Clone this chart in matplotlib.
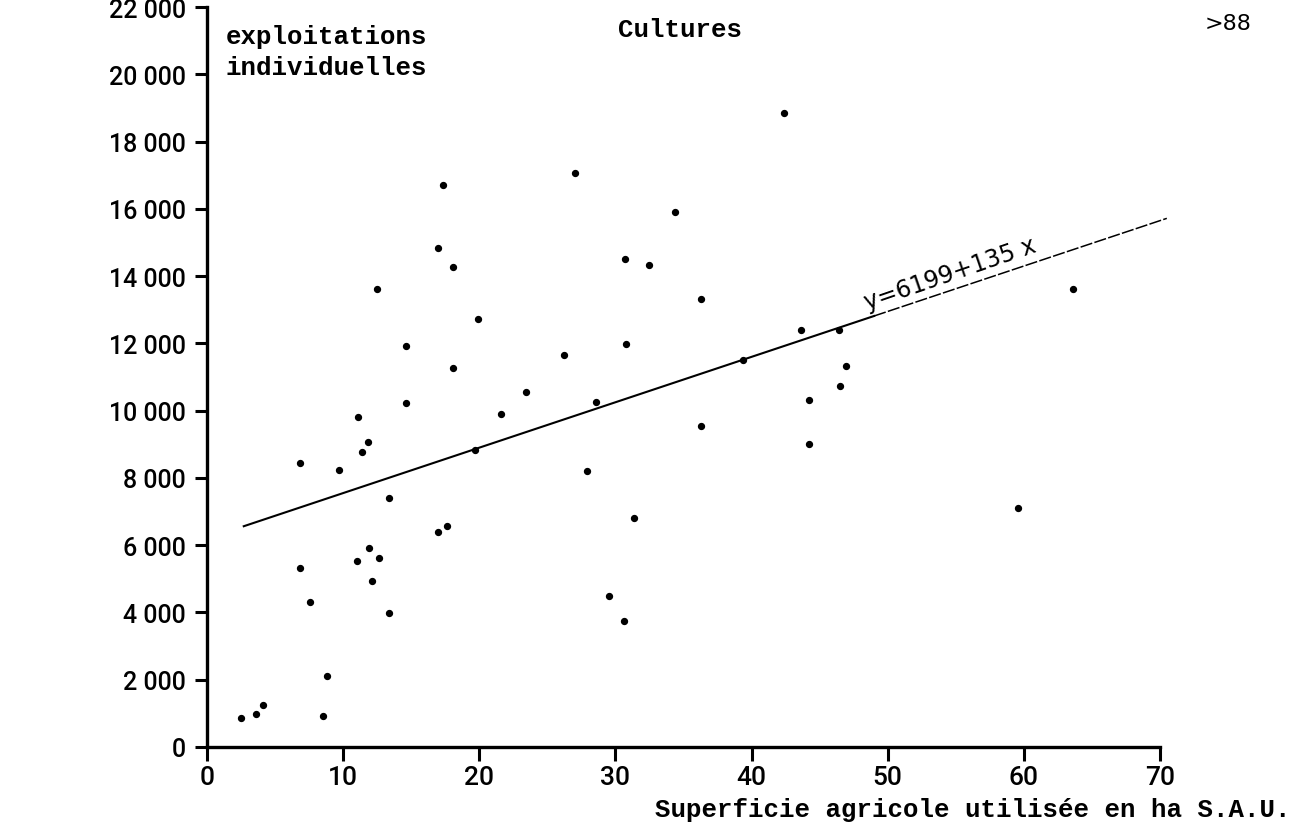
import matplotlib
matplotlib.use("Agg")
import matplotlib.pyplot as plt
from matplotlib.ticker import FuncFormatter

# surface agricole utilisee (ha)
sau = [2.5, 3.6, 4.1, 8.5, 8.8, 6.8, 7.6, 11.0, 11.9, 12.6, 12.1, 13.4, 17.0, 17.6,
       29.5, 30.6, 31.4, 18.1, 12.5, 19.9, 14.6, 18.1, 23.4, 14.6, 26.2, 30.8, 30.7,
       32.5, 21.6, 11.1, 11.8, 11.4, 6.8, 9.7, 19.7, 28.6, 27.9, 13.4, 17.3, 17.0,
       27.0, 34.4, 42.4, 36.3, 43.6, 46.4, 63.6, 46.9, 46.5, 44.2, 44.2, 36.3, 59.6, 39.4]
# cultures
cultures = [860, 990, 1245, 930, 2100, 5320, 4310, 5530, 5920, 5610, 4940, 3970, 6400, 6580,
            4480, 3740, 6800, 14285, 13620, 12715, 11930, 11255, 10560, 10215, 11665, 11990, 14510,
            14320, 9900, 9815, 9080, 8785, 8450, 8235, 8830, 10265, 8205, 7410, 16700, 14840,
            17060, 15900, 18850, 13320, 12410, 12410, 13620, 11315, 10725, 10330, 9010, 9550, 7100, 11510]

# droite de regression y = a + b x
a = 6199
b = 135
x_solid = [2.7, 49.0]
x_dash = [49.0, 70.5]

xticks = [0, 10, 20, 30, 40, 50, 60, 70]
yticks = list(range(0, 22001, 2000))

W, H = 1315, 829
fig = plt.figure(figsize=(W / 100, H / 100), dpi=100)
ax = fig.add_axes([207 / W, 1 - 748 / H, (1160 - 207) / W, (748 - 8) / H])

ax.scatter(sau, cultures, s=18, color="black", zorder=3, clip_on=False)

ax.plot(x_solid, [a + b * v for v in x_solid], color="black", lw=1.5, clip_on=False)
ax.plot(x_dash, [a + b * v for v in x_dash], color="black", lw=1.1,
        ls=(0, (8, 1.5)), clip_on=False)

ax.set_xlim(0, 70)
ax.set_ylim(0, 22000)
ax.set_xticks(xticks)
ax.set_yticks(yticks)
ax.yaxis.set_major_formatter(FuncFormatter(lambda v, p: "{:,}".format(int(v)).replace(",", " ")))

for s in ["top", "right"]:
    ax.spines[s].set_visible(False)
ax.spines["left"].set_linewidth(2.4)
ax.spines["bottom"].set_linewidth(2.4)
ax.tick_params(axis="both", width=2.2, direction="out", colors="black")
ax.tick_params(axis="y", length=9, pad=6, labelsize=18)
ax.tick_params(axis="x", length=10, pad=3, labelsize=19)
for lab in ax.get_xticklabels() + ax.get_yticklabels():
    lab.set_family("Roboto")
    lab.set_weight("medium")

mono = "Liberation Mono"
fig.text(226 / W, 1 - 37 / H, "exploitations", family=mono, weight="bold",
         fontsize=18.5, va="center", ha="left")
fig.text(226 / W, 1 - 68 / H, "individuelles", family=mono, weight="bold",
         fontsize=18.5, va="center", ha="left")
fig.text(618 / W, 1 - 30 / H, "Cultures", family=mono, weight="bold",
         fontsize=18.5, va="center", ha="left")
fig.text(1205 / W, 1 - 24 / H, ">88", fontsize=16, va="center", ha="left")
fig.text(655 / W, 1 - 810 / H, "Superficie agricole utilisée en ha S.A.U.",
         family=mono, weight="bold", fontsize=18.5, va="center", ha="left")

# equation le long de la droite
xt = 48.6
ax.text(xt, a + b * xt + 120, "y=6199+135 x", fontsize=17, rotation=19,
        rotation_mode="anchor", ha="left", va="bottom", color="black")

fig.savefig("out.png", dpi=100, facecolor="white")
